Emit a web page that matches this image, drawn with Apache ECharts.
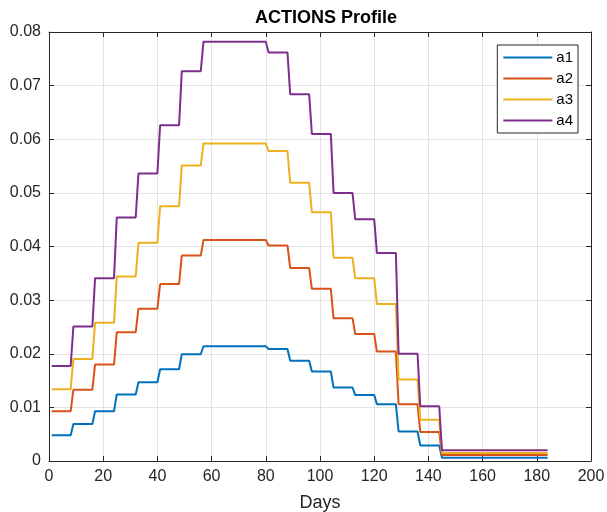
<!DOCTYPE html>
<html>
<head>
<meta charset="utf-8">
<script src="https://cdn.jsdelivr.net/npm/echarts@6/dist/echarts.min.js"></script>
<style>
  html, body { margin: 0; padding: 0; background: #fff; }
  #chart { width: 607px; height: 512px; }
</style>
</head>
<body>
<div id="chart"></div>
<script>
// each level holds for an 8-day block: days 1-8, 9-16, ..., 177-184
const blockStarts = [1, 9, 17, 25, 33, 41, 49, 57, 65, 73, 81, 89, 97, 105, 113, 121, 129, 137, 145, 153, 161, 169, 177]
const blockEnds = [8, 16, 24, 32, 40, 48, 56, 64, 72, 80, 88, 96, 104, 112, 120, 128, 136, 144, 152, 160, 168, 176, 184]

const seriesNames = ['a1', 'a2', 'a3', 'a4']
const a1 = [0.0048, 0.0069, 0.0093, 0.0124, 0.0147, 0.0171, 0.0199, 0.0214, 0.0214, 0.0214,
  0.0209, 0.0187, 0.0167, 0.0137, 0.0123, 0.0106, 0.0055, 0.0029, 0.0006, 0.0006, 0.0006, 0.0006, 0.0006]
const a2 = [0.0093, 0.0133, 0.0180, 0.0240, 0.0284, 0.0330, 0.0383, 0.0412, 0.0412, 0.0412,
  0.0402, 0.0360, 0.0321, 0.0266, 0.0237, 0.0204, 0.0106, 0.0054, 0.0011, 0.0011, 0.0011, 0.0011, 0.0011]
const a3 = [0.0134, 0.0190, 0.0258, 0.0344, 0.0407, 0.0475, 0.0551, 0.0592, 0.0592, 0.0592,
  0.0578, 0.0519, 0.0464, 0.0379, 0.0341, 0.0293, 0.0152, 0.0077, 0.0015, 0.0015, 0.0015, 0.0015, 0.0015]
const a4 = [0.0177, 0.0251, 0.0341, 0.0454, 0.0536, 0.0626, 0.0727, 0.0782, 0.0782, 0.0782,
  0.0762, 0.0684, 0.0610, 0.0500, 0.0451, 0.0388, 0.0200, 0.0102, 0.0020, 0.0020, 0.0020, 0.0020, 0.0020]

const colors = ['#0072BD', '#D95319', '#EDB120', '#7E2F8E']
const ink = '#262626'
const font = 'Liberation Sans, Arial, sans-serif'

// two points per block so the level holds across it
const toPoints = (levels) => {
  const pts = []
  levels.forEach((v, i) => {
    pts.push([blockStarts[i], v])
    pts.push([blockEnds[i], v])
  })
  return pts
}

const chart = echarts.init(document.getElementById('chart'))

const axisCommon = {
  axisLine: { show: true, onZero: false, lineStyle: { color: ink, width: 1 } },
  axisTick: { show: true, inside: true, length: 5, lineStyle: { color: ink } },
}

chart.setOption({
  animation: false,
  title: {
    text: 'ACTIONS Profile',
    left: 321, top: 4, textAlign: 'center',
    textStyle: { fontFamily: font, fontSize: 18, fontWeight: 'bold', color: '#000' }
  },
  grid: { left: 49, right: 16, top: 32, bottom: 51, outerBoundsMode: 'none' },
  legend: {
    data: seriesNames,
    orient: 'vertical',
    right: 29, top: 45,
    icon: 'rect', itemWidth: 49, itemHeight: 2,
    itemGap: 6,
    padding: [5, 5, 5, 6],
    backgroundColor: '#fff',
    borderColor: ink, borderWidth: 1, borderRadius: 0,
    textStyle: { fontFamily: font, fontSize: 15, color: '#000', padding: [0, 0, 0, -1] }
  },
  xAxis: [
    {
      type: 'value', min: 0, max: 200, interval: 20,
      name: 'Days', nameLocation: 'middle', nameGap: 33,
      nameTextStyle: { fontFamily: font, fontSize: 18, color: ink },
      ...axisCommon,
      axisLabel: { fontFamily: font, fontSize: 16, color: ink, margin: 8 },
      splitLine: { show: true, lineStyle: { color: '#e3e3e3', width: 1 } }
    },
    {
      type: 'value', min: 0, max: 200, interval: 20, position: 'top',
      ...axisCommon,
      axisLabel: { show: false }, splitLine: { show: false }
    }
  ],
  yAxis: [
    {
      type: 'value', min: 0, max: 0.08, interval: 0.01,
      ...axisCommon,
      axisLabel: {
        fontFamily: font, fontSize: 16, color: ink, margin: 8,
        formatter: (v) => (v === 0 ? '0' : v.toFixed(2))
      },
      splitLine: { show: true, lineStyle: { color: '#e3e3e3', width: 1 } }
    },
    {
      type: 'value', min: 0, max: 0.08, interval: 0.01, position: 'right',
      ...axisCommon,
      axisLabel: { show: false }, splitLine: { show: false }
    }
  ],
  series: [a1, a2, a3, a4].map((levels, i) => ({
    name: seriesNames[i],
    type: 'line',
    data: toPoints(levels),
    showSymbol: false,
    symbol: 'none',
    color: colors[i],
    lineStyle: { color: colors[i], width: 2 },
    z: 3 + i
  }))
})
</script>
</body>
</html>
